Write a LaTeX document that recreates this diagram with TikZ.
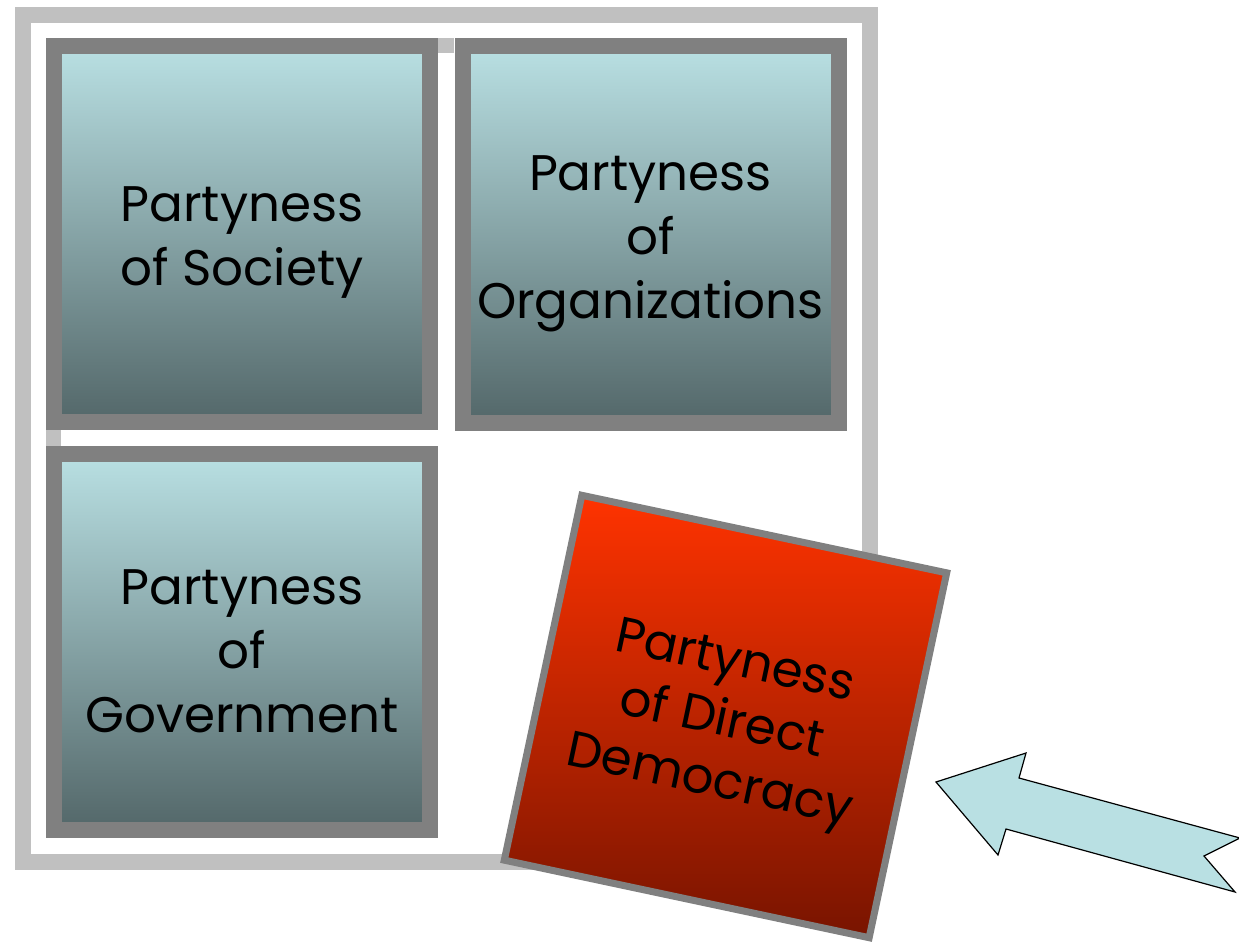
\documentclass[tikz,border=0pt]{standalone}
\usepackage{fontspec}
\setmainfont{Poppins}
\definecolor{framegray}{HTML}{C0C0C0}
\definecolor{boxgray}{HTML}{808080}
\definecolor{boxtop}{HTML}{B9E0E3}
\definecolor{boxbottom}{HTML}{536769}
\definecolor{redtop}{HTML}{FF3300}
\definecolor{redbottom}{HTML}{781400}

\begin{document}
\begin{tikzpicture}[x=1pt,y=-1pt,
  every node/.style={align=center,inner sep=0pt,font=\fontsize{50}{64}\selectfont},
  part/.style={draw=boxgray,line width=16pt,top color=boxtop,bottom color=boxbottom,minimum size=376pt},
  direct/.style={draw=boxgray,line width=7pt,top color=redtop,bottom color=redbottom,minimum size=373pt,rotate=-12},
  directtext/.style={rotate=-12,font=\fontsize{50}{61}\selectfont}]
            \useasboundingbox (0,0) rectangle (1239,944);
            \draw [framegray,line width=16pt] (23,15.5) rectangle (870,862);
            \fill [framegray] (438,38) rectangle (454,53);
            \fill [framegray] (46,430) rectangle (61,446);

            \node [part] (S) at (242,234) {};
            \node [part] (O) at (650.5,234.5) {};
            \node [part] (G) at (242,642) {};
            \node [direct] (D) at (725.5,716.5) {};

            \node (Stext) at ([yshift=-9pt]S.center) {Partyness\\of Society};
            \node (Otext) at ([yshift=-9pt]O.center) {Partyness\\of\\Organizations};
            \node (Gtext) at ([yshift=-9pt]G.center) {Partyness\\of\\Government};
            \node [directtext] (Dtext) at ([shift={(-4pt,-8pt)}]D.center) {Partyness\\of Direct\\Democracy};

            \draw [black,line width=1.2pt,fill=boxtop,line join=miter] (936,782) -- (1026,753) -- (1019,778) -- (1240,838) -- (1204,856) -- (1235,892) -- (1006,829) -- (998,855) -- cycle;
        \end{tikzpicture}
\end{document}
